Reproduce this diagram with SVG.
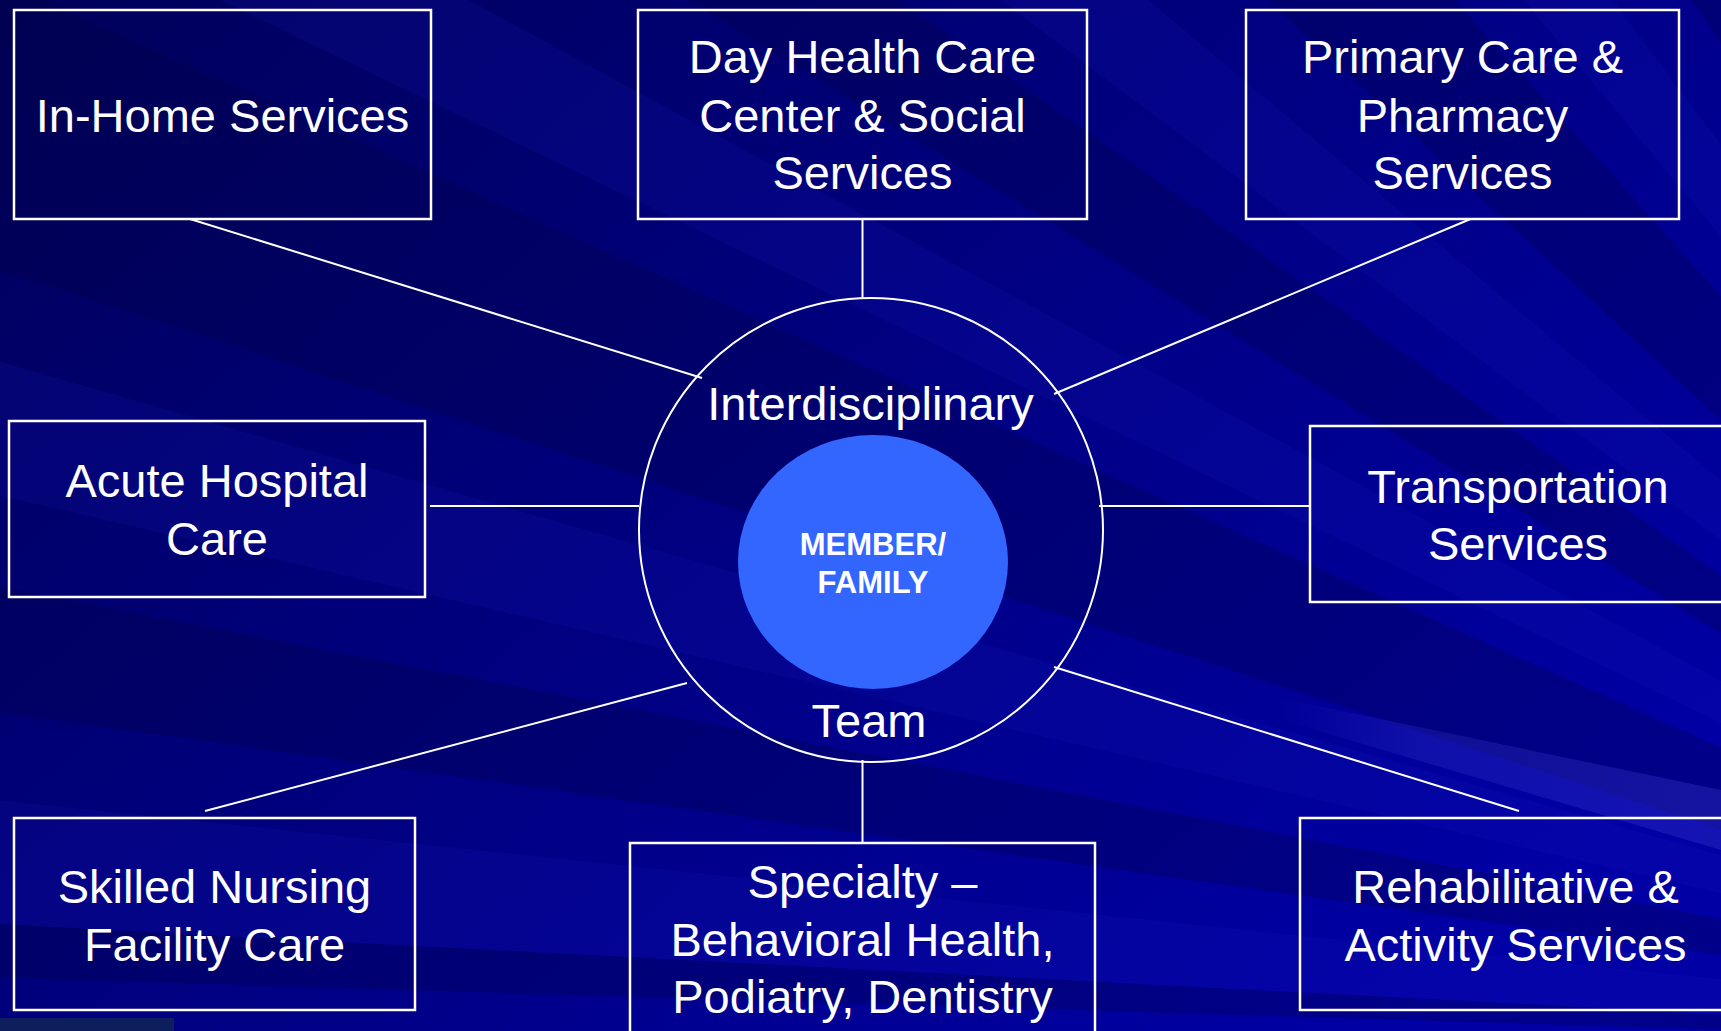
<svg xmlns="http://www.w3.org/2000/svg" width="1721" height="1031" viewBox="0 0 1721 1031">
<defs>
<linearGradient id="bg" x1="0" y1="0" x2="1" y2="0.7">
<stop offset="0" stop-color="#00005a"/>
<stop offset="0.5" stop-color="#000080"/>
<stop offset="1" stop-color="#0000a4"/>
</linearGradient>
<linearGradient id="streak" x1="0" y1="0" x2="1" y2="0">
<stop offset="0" stop-color="#3a3ad0" stop-opacity="0"/>
<stop offset="0.3" stop-color="#3a3ad0" stop-opacity="0.25"/>
<stop offset="1" stop-color="#3a3ad0" stop-opacity="0.35"/>
</linearGradient>
<style>
.box{fill:none;stroke:#ffffff;stroke-width:2.5}
.lbl{font-family:"Liberation Sans",Arial,sans-serif;font-size:47px;fill:#ffffff;text-anchor:middle}
.core{font-family:"Liberation Sans",Arial,sans-serif;font-size:31px;font-weight:bold;fill:#ffffff;text-anchor:middle}
.con{stroke:#ffffff;stroke-width:2;fill:none}
.dk{fill:#000040;opacity:0.28}
.lt{fill:#1818c0;opacity:0.15}
</style>
</defs>
<g id="background">
<rect x="0" y="0" width="1721" height="1031" fill="url(#bg)"/>
<polygon class="dk" points="2400,1050 -580,960 -596,893"/>
<polygon class="lt" points="2400,1050 -596,893 -580,740"/>
<polygon class="dk" points="2400,1050 -571,632 -554,480"/>
<polygon class="lt" points="2400,1050 -523,375 -484,223"/>
<polygon class="dk" points="2400,1050 -453,123 -341,-170"/>
<polygon class="lt" points="2400,1050 -300,-250 -230,-380"/>
<polygon class="dk" points="2400,1050 -160,-520 -60,-670"/>
<polygon class="lt" points="2400,1050 0,-750 102,-878"/>
<polygon class="dk" points="2400,1050 200,-990 393,-1179"/>
<polygon class="lt" points="2400,1050 480,-1250 600,-1350"/>
<polygon class="dk" points="2400,1050 722,-1437 900,-1548"/>
<polygon points="1275,697 1721,790 1721,850 1275,718" fill="url(#streak)"/>
<rect x="0" y="1018" width="174" height="13" fill="#0c1f5c"/>
</g>
<g id="connectors">
<line class="con" x1="190" y1="219" x2="702" y2="378"/>
<line class="con" x1="862.5" y1="219" x2="862.5" y2="298"/>
<line class="con" x1="1470.5" y1="219" x2="1054" y2="394"/>
<line class="con" x1="430" y1="506" x2="639" y2="506"/>
<line class="con" x1="1099" y1="506" x2="1309" y2="506"/>
<line class="con" x1="205" y1="811" x2="687" y2="683"/>
<line class="con" x1="862.5" y1="760" x2="862.5" y2="843"/>
<line class="con" x1="1054" y1="667" x2="1519" y2="811"/>
</g>
<g id="team">
<circle cx="871" cy="530" r="232" fill="none" stroke="#ffffff" stroke-width="2"/>
<text class="lbl" x="870.5" y="420">Interdisciplinary</text>
<text class="lbl" x="869" y="737">Team</text>
</g>
<g id="member">
<ellipse cx="873" cy="562" rx="135" ry="127" fill="#3366ff"/>
<text class="core" x="873" y="555">MEMBER/</text>
<text class="core" x="873" y="593">FAMILY</text>
</g>
<g id="in-home">
<rect class="box" x="14" y="10" width="417" height="209"/>
<text class="lbl" x="222.5" y="131.5">In-Home Services</text>
</g>
<g id="day-health">
<rect class="box" x="638" y="10" width="449" height="209"/>
<text class="lbl" x="862.5" y="73">Day Health Care</text>
<text class="lbl" x="862.5" y="131.5">Center &amp; Social</text>
<text class="lbl" x="862.5" y="189">Services</text>
</g>
<g id="primary-care">
<rect class="box" x="1246" y="10" width="433" height="209"/>
<text class="lbl" x="1462.5" y="73">Primary Care &amp;</text>
<text class="lbl" x="1462.5" y="131.5">Pharmacy</text>
<text class="lbl" x="1462.5" y="189">Services</text>
</g>
<g id="acute-hospital">
<rect class="box" x="9" y="421" width="416" height="176"/>
<text class="lbl" x="217" y="497">Acute Hospital</text>
<text class="lbl" x="217" y="555">Care</text>
</g>
<g id="transportation">
<rect class="box" x="1310" y="426" width="420" height="176"/>
<text class="lbl" x="1518" y="503">Transportation</text>
<text class="lbl" x="1518" y="560">Services</text>
</g>
<g id="skilled-nursing">
<rect class="box" x="14" y="818" width="401" height="192"/>
<text class="lbl" x="214.5" y="903">Skilled Nursing</text>
<text class="lbl" x="214.5" y="961">Facility Care</text>
</g>
<g id="specialty">
<rect class="box" x="630" y="843" width="465" height="220"/>
<text class="lbl" x="862.5" y="898">Specialty –</text>
<text class="lbl" x="862.5" y="956">Behavioral Health,</text>
<text class="lbl" x="862.5" y="1013">Podiatry, Dentistry</text>
</g>
<g id="rehabilitative">
<rect class="box" x="1300" y="818" width="440" height="192"/>
<text class="lbl" x="1515.5" y="903">Rehabilitative &amp;</text>
<text class="lbl" x="1515.5" y="961">Activity Services</text>
</g>
</svg>
